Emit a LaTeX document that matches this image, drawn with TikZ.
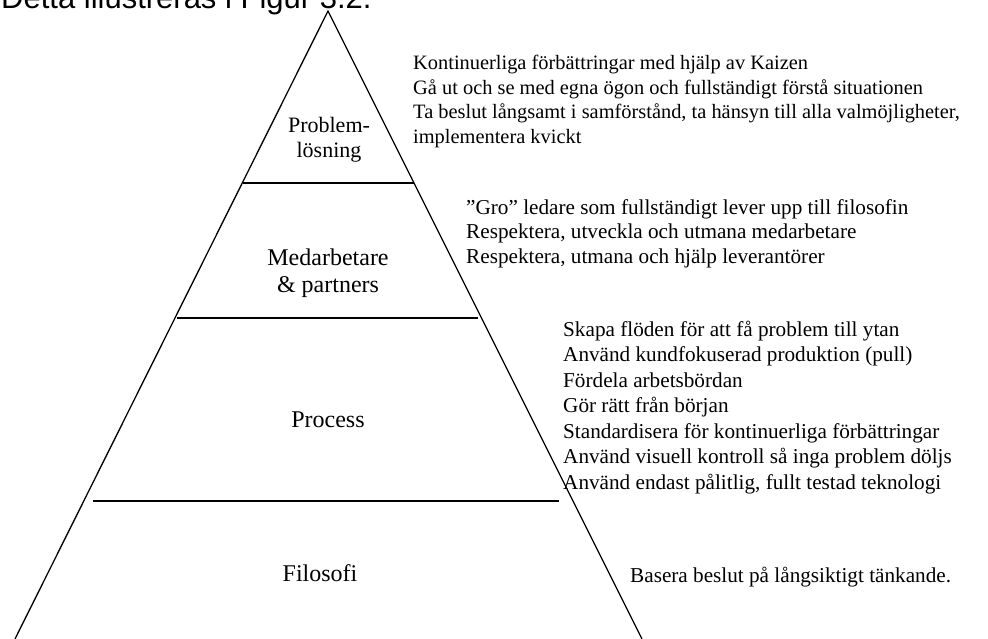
\documentclass[tikz,border=0pt]{standalone}
\usepackage{fontspec}
\setmainfont{Liberation Serif}
\newfontfamily\arialfont{Liberation Sans}
\begin{document}
\begin{tikzpicture}[x=1pt,y=-1pt,
  side/.style={line width=1.3pt},
  divider/.style={line width=1.7pt},
  lvl/.style={align=center, inner sep=0pt, font=\fontsize{24}{27}\selectfont},
  itm/.style={anchor=base west, inner sep=0pt, font=\fontsize{21.2}{24.5}\selectfont},
  topitm/.style={itm, font=\fontsize{20.4}{24.5}\selectfont}]
\useasboundingbox (0,0) rectangle (988,639);
\clip (0,0) rectangle (988,639);
\fill[white] (0,0) rectangle (988,639);
% clipped heading
\node[anchor=base west, inner sep=0pt, font=\arialfont\fontsize{31}{36}\selectfont] (cap) at (1,9) {Detta illustreras i Figur 3.2.};
% pyramid
\coordinate (apex) at (328,11);
\coordinate (bl) at (9.5,650);
\coordinate (br) at (647.5,650);
\draw[side] (bl) -- (apex) -- (br);
\coordinate (d1l) at (243,183); \coordinate (d1r) at (414,183);
\coordinate (d2l) at (177,318); \coordinate (d2r) at (478,318);
\coordinate (d3l) at (93,501);  \coordinate (d3r) at (559,501);
\draw[divider] (d1l) -- (d1r);
\draw[divider] (d2l) -- (d2r);
\draw[divider] (d3l) -- (d3r);
% level labels
\node[lvl, font=\fontsize{22}{25}\selectfont] (problem) at (329,139.5) {Problem-\\lösning};
\node[lvl] (medarb) at (328,273.5) {Medarbetare\\\& partners};
\node[lvl] (process) at (328,420) {Process};
\node[lvl] (filosofi) at (320,573) {Filosofi};
% texts
\node[topitm] (t1) at (413,70)    {Kontinuerliga förbättringar med hjälp av Kaizen};
\node[topitm] (t2) at (413,94.5)  {Gå ut och se med egna ögon och fullständigt förstå situationen};
\node[topitm] (t3) at (413,119)   {Ta beslut långsamt i samförstånd, ta hänsyn till alla valmöjligheter,};
\node[topitm] (t4) at (413,143.5) {implementera kvickt};
\node[itm] (m1) at (466,214.5) {”Gro” ledare som fullständigt lever upp till filosofin};
\node[itm] (m2) at (466,239)   {Respektera, utveckla och utmana medarbetare};
\node[itm] (m3) at (466,263.5) {Respektera, utmana och hjälp leverantörer};
\node[itm] (p1) at (563,336)   {Skapa flöden för att få problem till ytan};
\node[itm] (p2) at (563,361.5) {Använd kundfokuserad produktion (pull)};
\node[itm] (p3) at (563,387)   {Fördela arbetsbördan};
\node[itm] (p4) at (563,412.5) {Gör rätt från början};
\node[itm] (p5) at (563,438)   {Standardisera för kontinuerliga förbättringar};
\node[itm] (p6) at (563,463.5) {Använd visuell kontroll så inga problem döljs};
\node[itm] (p7) at (563,489)   {Använd endast pålitlig, fullt testad teknologi};
\node[itm] (f1) at (630,582)   {Basera beslut på långsiktigt tänkande.};
\end{tikzpicture}
\end{document}
